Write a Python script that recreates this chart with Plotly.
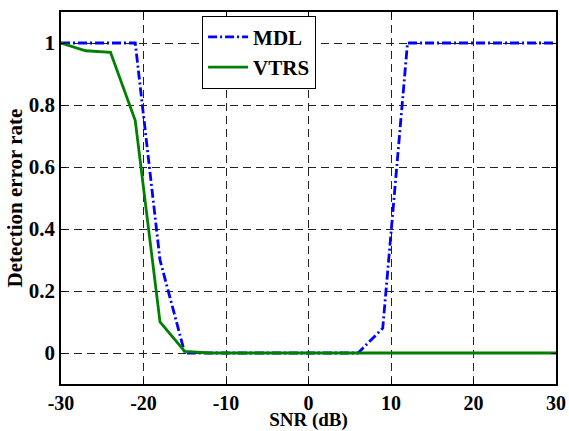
import plotly.graph_objects as go

snr = [-30, -27, -24, -21, -18, -15, -12, -9, -6, -3, 0, 3, 6, 9, 12, 15, 18, 21, 24, 27, 30]
mdl = [1, 1, 1, 1, 0.30, 0, 0, 0, 0, 0, 0, 0, 0, 0.08, 1, 1, 1, 1, 1, 1, 1]
vtrs = [1, 0.975, 0.97, 0.75, 0.10, 0.005, 0, 0, 0, 0, 0, 0, 0, 0, 0, 0, 0, 0, 0, 0, 0]

x_ticks = [-30, -20, -10, 0, 10, 20, 30]
x_ticktext = ["-30", "-20", "-10", "0", "10", "20", "30"]
y_ticks = [0, 0.2, 0.4, 0.6, 0.8, 1]
y_ticktext = ["0", "0.2", "0.4", "0.6", "0.8", "1"]

FONT = "Liberation Serif"
FS = 21

fig = go.Figure()
fig.add_trace(go.Scatter(x=snr, y=mdl, mode="lines", name="MDL",
                         line=dict(color="#0000ff", width=2.8, dash="9px,3px,2px,3px")))
fig.add_trace(go.Scatter(x=snr, y=vtrs, mode="lines", name="VTRS",
                         line=dict(color="#007f00", width=2.8)))

axis_common = dict(
    automargin=False,
    showline=True, linecolor="black", linewidth=1.5, mirror="ticks",
    ticks="inside", ticklen=5, tickcolor="black",
    showgrid=True, gridcolor="#222", gridwidth=1, griddash="8px,5px",
    zeroline=False,
)

fig.update_xaxes(range=[-30, 30], tickvals=x_ticks, ticktext=x_ticktext,
                 tickfont=dict(family=FONT, size=20, color="black", weight="bold"),
                 title=dict(text="SNR (dB)", standoff=6,
                            font=dict(family=FONT, size=19, color="black", weight="bold")),
                 **axis_common)
fig.update_yaxes(range=[-0.1, 1.1], tickvals=y_ticks, ticktext=y_ticktext,
                 tickfont=dict(family=FONT, size=FS, color="black", weight="bold"),
                 title=dict(text="Detection error rate", standoff=0,
                            font=dict(family=FONT, size=FS, color="black", weight="bold")),
                 **axis_common)

fig.update_layout(
    width=569, height=431,
    margin=dict(l=61, r=13, t=12, b=47),
    paper_bgcolor="white", plot_bgcolor="white",
    font=dict(family=FONT, color="black", weight="bold"),
    showlegend=True,
    legend=dict(x=0.285, y=0.99, xanchor="left", yanchor="top",
                bgcolor="white", bordercolor="black", borderwidth=1,
                font=dict(family=FONT, size=FS, color="black", weight="bold"),
                tracegroupgap=0, itemwidth=40),
)

fig.write_html("out.html", config={"displayModeBar": False},
               post_script="document.body.style.margin='0px';document.body.style.overflow='hidden';")
